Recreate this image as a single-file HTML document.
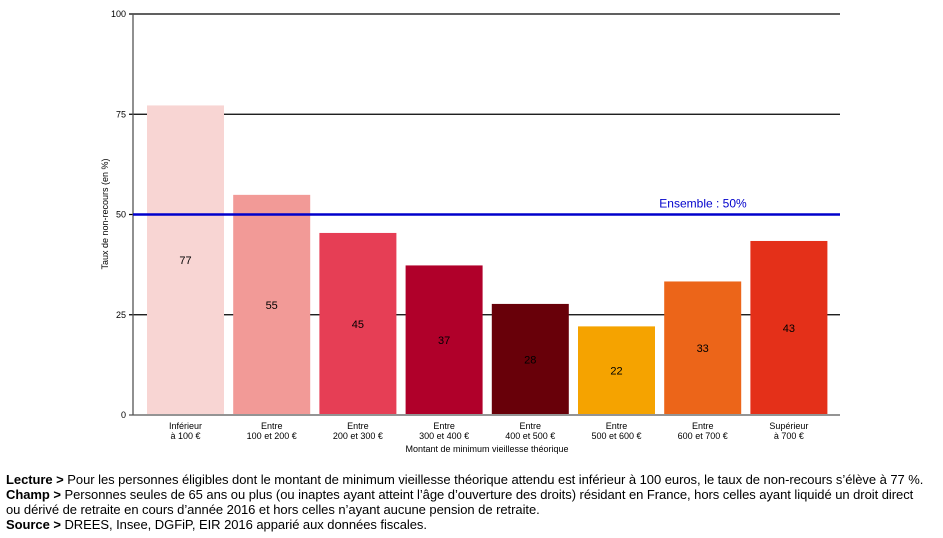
<!DOCTYPE html>
<html><head><meta charset="utf-8"><style>
body{margin:0;background:#fff;width:943px;height:538px;overflow:hidden;font-family:"Liberation Sans",Arial,sans-serif}
#notes{position:absolute;left:6px;top:472px;font-size:13px;line-height:15px;color:#000;width:935px;letter-spacing:-0.05px;white-space:nowrap}
</style></head><body>
<svg id="chart" width="943" height="470" style="position:absolute;left:0;top:0" font-family="Liberation Sans, Arial, sans-serif"></svg>
<div id="notes">
<div><b>Lecture &gt;</b> Pour les personnes éligibles dont le montant de minimum vieillesse théorique attendu est inférieur à 100 euros, le taux de non-recours s’élève à 77 %.</div>
<div><b>Champ &gt;</b> Personnes seules de 65 ans ou plus (ou inaptes ayant atteint l’âge d’ouverture des droits) résidant en France, hors celles ayant liquidé un droit direct<br>ou dérivé de retraite en cours d’année 2016 et hors celles n’ayant aucune pension de retraite.</div>
<div><b>Source &gt;</b> DREES, Insee, DGFiP, EIR 2016 apparié aux données fiscales.</div>
</div>
<script>
const categories1=["Inférieur","Entre","Entre","Entre","Entre","Entre","Entre","Supérieur"];
const categories2=["à 100 €","100 et 200 €","200 et 300 €","300 et 400 €","400 et 500 €","500 et 600 €","600 et 700 €","à 700 €"];
const values=[77.2,54.9,45.4,37.3,27.7,22.1,33.3,43.4];
const colors=["#f8d5d3","#f29a97","#e63e55","#b0002a","#680009","#f5a300","#ec6519","#e43019"];
const yTicks=[0,25,50,75,100];
const ensemble=50;
const svg=document.getElementById('chart');
const NS="http://www.w3.org/2000/svg";
const x0=133,x1=840,yTop=14,yBot=415;
const y=v=>yBot-(v/100)*(yBot-yTop);
const step=86.2,bw=77,bStart=147;
const bx=i=>bStart+i*step;
function mk(t,a,p){const e=document.createElementNS(NS,t);for(const k in a)e.setAttribute(k,a[k]);(p||svg).appendChild(e);return e;}
yTicks.forEach(t=>{
 const g=mk('line',{x1:x0-4,x2:x1,y1:y(t),y2:y(t),stroke:t===0?'#555':'#000','stroke-width':1.3});
 
 
 const l=mk('text',{x:x0-7,y:y(t)+3,'font-size':9,'text-anchor':'end',fill:'#000'});l.textContent=t;
 
 
});
const ax=mk('line',{x1:x0,x2:x0,y1:yTop,y2:yBot,stroke:'#555','stroke-width':1.3});


values.forEach((v,i)=>{
 const r=mk('rect',{x:bx(i),y:y(v),width:bw,height:yBot-y(v)-1,fill:colors[i]});
 
 
 const t=mk('text',{x:bx(i)+bw/2,y:(y(v)+yBot)/2+4,'font-size':11,'text-anchor':'middle',fill:'#000'});t.textContent=Math.round(v);
 
 
 const c1=mk('text',{x:bx(i)+bw/2,y:429,'font-size':9,'text-anchor':'middle',fill:'#000'});c1.textContent=categories1[i];
 
 
 const c2=mk('text',{x:bx(i)+bw/2,y:439,'font-size':9,'text-anchor':'middle',fill:'#000'});c2.textContent=categories2[i];
 
 
});
const el=mk('line',{x1:x0,x2:x1,y1:y(ensemble),y2:y(ensemble),stroke:'#0000cc','stroke-width':2.5});


const et=mk('text',{x:703,y:y(ensemble)-7,'font-size':12,'text-anchor':'middle',fill:'#0000cc'});et.textContent='Ensemble : 50%';


const xt=mk('text',{x:487,y:452,'font-size':9,'text-anchor':'middle',fill:'#000'});xt.textContent='Montant de minimum vieillesse théorique';


const yt=mk('text',{x:0,y:0,'font-size':9,'text-anchor':'middle',fill:'#000',transform:'translate(108,214) rotate(-90)'});yt.textContent='Taux de non-recours (en %)';


</script>
</body></html>
